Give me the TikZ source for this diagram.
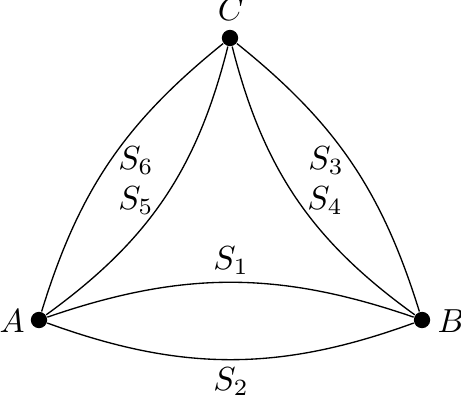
\documentclass[tikz,border=0pt]{standalone}
\tikzset{every picture/.style={line width=0.4pt}}
\tikzset{vertex/.style={circle,fill=black,inner sep=0pt,minimum size=4.9pt},
  lbl/.style={inner sep=0.75pt}}

\begin{document}
\begin{tikzpicture}[x=0.3pt,y=0.3pt,yscale=-1,xscale=1]
\useasboundingbox (0,0) rectangle (461,402);

%Vertices
\node [vertex] (A) at (39,320) {};
\node [vertex] (B) at (422,320) {};
\node [vertex] (C) at (230,38) {};

%Curves A--B
\draw (A) to [bend left=20] (B);
\draw (A) to [bend right=19] (B);
%Curves A--C
\draw (A) to [bend left=20] (C);
\draw (A) to [bend right=17] (C);
%Curves C--B
\draw (C) to [bend left=20] (B);
\draw (C) to [bend right=17] (B);

% Text Node
\node [lbl] (la) at (12,321) {$A$};
\node [lbl] (lb) at (451,321) {$B$};
\node [lbl] (lc) at (231,9) {$C$};
% Text Node
\node [lbl] (s1) at (231,261) {$S_{1}$};
\node [lbl] (s2) at (231,382) {$S_{2}$};
\node [lbl] (s3) at (326,161) {$S_{3}$};
\node [lbl] (s4) at (325,201) {$S_{4}$};
\node [lbl] (s5) at (136,201) {$S_{5}$};
\node [lbl] (s6) at (136,161) {$S_{6}$};

\end{tikzpicture}
\end{document}
